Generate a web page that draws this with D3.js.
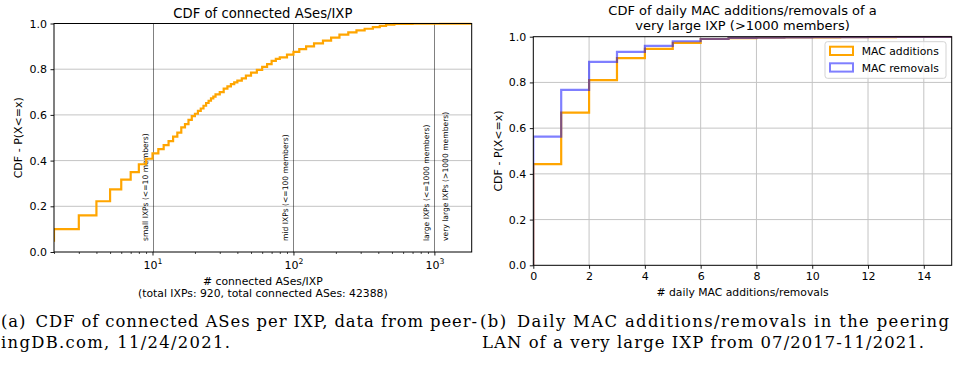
<!DOCTYPE html>
<html>
<head>
<meta charset="utf-8">
<script src="https://cdn.jsdelivr.net/npm/d3@7"></script>
<style>
body { margin: 0; background: #fff; }
svg text { font-family: "DejaVu Sans", sans-serif; fill: #000; }
svg text.caption { font-family: "DejaVu Serif", serif; font-size: 16.4px; }
</style>
</head>
<body>
<svg id="fig" width="954" height="365"></svg>
<script>
// (a) CDF of connected ASes per IXP
var asesCount = [1, 2, 3, 4, 5, 6, 7, 8, 9, 10, 11, 12, 13, 14, 15, 16, 17, 18, 19, 20,
	21, 22, 23, 24, 25, 26, 27, 28, 30, 32, 34, 36, 38, 40, 43, 46, 50, 55, 60, 65,
	70, 75, 80, 90, 100, 110, 123, 140, 162, 185, 212, 245, 280, 320, 366, 410, 454,
	520, 700, 1100, 1840];
var asesCdf = [0.05, 0.10, 0.16, 0.222, 0.274, 0.317, 0.35, 0.384, 0.408, 0.432, 0.45,
	0.468, 0.485, 0.505, 0.522, 0.545, 0.56, 0.578, 0.595, 0.605, 0.618, 0.628, 0.64,
	0.652, 0.662, 0.672, 0.68, 0.69, 0.70, 0.715, 0.725, 0.735, 0.742, 0.75, 0.76,
	0.772, 0.785, 0.797, 0.81, 0.822, 0.836, 0.845, 0.852, 0.864, 0.876, 0.888, 0.90,
	0.913, 0.925, 0.938, 0.951, 0.961, 0.970, 0.977, 0.984, 0.99, 0.995, 0.998, 0.999,
	0.9995, 1.0];
var ixpBounds = [10, 100, 1000];
var ixpLabelsLeft = ['small IXPs (<=10 members)', 'mid IXPs (<=100 members)',
	'large IXPs (<=1000 members)'];
var ixpLabelRight = 'very large IXPs (>1000 members)';
var asesDecades = [10, 100, 1000];

// (b) daily MAC additions / removals of a very large IXP
var macCount = [0, 1, 2, 3, 4, 5, 6, 7, 8, 9, 10, 11, 12, 13, 14, 15];
var macAdditions = [0.443, 0.668, 0.81, 0.906, 0.947, 0.973, 0.99, 0.994, 0.996, 0.997,
	0.997, 0.998, 0.998, 0.999, 0.999, 1.0];
var macRemovals = [0.563, 0.767, 0.89, 0.934, 0.96, 0.98, 0.99, 0.995, 0.996, 0.997,
	0.998, 0.998, 0.999, 0.999, 0.999, 1.0];
var macTicks = [0, 2, 4, 6, 8, 10, 12, 14];
var macSeries = ['MAC additions', 'MAC removals'];

var cdfTicks = [0, 0.2, 0.4, 0.6, 0.8, 1.0];

var svg = d3.select('#fig'),
	orange = '#ffa500',
	blue = 'rgba(0, 0, 255, 0.5)',
	gridColor = '#c4c4c4',
	fmt = d3.format('.1f');

function styleAxis(g, size) {
	g.select('.domain').remove();
	g.selectAll('.tick line').attr('stroke', '#000').attr('stroke-width', 0.9);
	g.selectAll('.tick text').style('font-size', (size || 11) + 'px')
		.style('font-family', '"DejaVu Sans", sans-serif');
}

function frame(box) {
	svg.append('rect')
		.attr('x', box.left)
		.attr('y', box.top)
		.attr('width', box.right - box.left)
		.attr('height', box.bottom - box.top)
		.attr('fill', 'none')
		.attr('stroke', '#000')
		.attr('stroke-width', 1);
}

function clipFor(id, box) {
	svg.append('clipPath').attr('id', id)
		.append('rect')
		.attr('x', box.left)
		.attr('y', box.top - 1)
		.attr('width', box.right - box.left)
		.attr('height', box.bottom - box.top + 1);
	return 'url(#' + id + ')';
}

/* ---------- left panel ---------- */
var boxA = {left: 54, right: 471.7, top: 23.5, bottom: 252},
	xA = d3.scaleLog().domain([2, 1840]).range([boxA.left, boxA.right]),
	yA = d3.scaleLinear().domain([0, 1]).range([boxA.bottom, boxA.top]);

svg.append('g').selectAll('line')
	.data(cdfTicks.slice(1, -1))
	.enter().append('line')
	.attr('x1', boxA.left).attr('x2', boxA.right)
	.attr('y1', function(d) { return yA(d); })
	.attr('y2', function(d) { return yA(d); })
	.attr('stroke', gridColor).attr('stroke-width', 1);

var gyA = svg.append('g')
	.attr('transform', 'translate(' + boxA.left + ',0)')
	.call(d3.axisLeft(yA).tickValues(cdfTicks).tickSize(3.5).tickPadding(3.5).tickFormat(fmt));
styleAxis(gyA);

// minor log ticks
var minorA = xA.ticks().filter(function(d) {
	return asesDecades.indexOf(d) < 0;
});
var gxMinor = svg.append('g')
	.attr('transform', 'translate(0,' + boxA.bottom + ')')
	.call(d3.axisBottom(xA).tickValues(minorA).tickSize(2).tickFormat(''));
styleAxis(gxMinor);
gxMinor.selectAll('.tick line').attr('stroke-width', 0.7);

var gxA = svg.append('g')
	.attr('transform', 'translate(0,' + boxA.bottom + ')')
	.call(d3.axisBottom(xA).tickValues(asesDecades).tickSize(3.5).tickFormat(''));
styleAxis(gxA);
gxA.selectAll('.tick').append('text')
	.attr('y', 17)
	.attr('text-anchor', 'middle')
	.style('font-size', '11px')
	.each(function(d) {
		var t = d3.select(this);
		t.append('tspan').text('10');
		t.append('tspan').attr('dy', -5).style('font-size', '7.7px')
			.text(Math.round(Math.log10(d)));
	});

// category boundaries
svg.append('g').selectAll('line')
	.data(ixpBounds)
	.enter().append('line')
	.attr('x1', function(d) { return Math.round(xA(d)) + 0.5; })
	.attr('x2', function(d) { return Math.round(xA(d)) + 0.5; })
	.attr('y1', boxA.top).attr('y2', boxA.bottom)
	.attr('stroke', '#000').attr('stroke-width', 1)
	.attr('stroke-dasharray', '1,1');

svg.append('g').selectAll('text')
	.data(ixpBounds)
	.enter().append('text')
	.attr('transform', function(d) {
		return 'translate(' + (xA(d) - 5) + ',' + (boxA.bottom - 11) + ') rotate(-90)';
	})
	.style('font-size', '7.6px')
	.text(function(d, i) { return ixpLabelsLeft[i]; });

svg.append('text')
	.attr('transform', 'translate(' + (xA(ixpBounds[2]) + 13.5) + ',' + (boxA.bottom - 11) + ') rotate(-90)')
	.style('font-size', '7.6px')
	.text(ixpLabelRight);

var stepLine = function(x, y) {
	return d3.line()
		.x(function(d) { return x(d[0]); })
		.y(function(d) { return y(d[1]); })
		.curve(d3.curveStepAfter);
};

svg.append('path')
	.datum(d3.zip(asesCount, asesCdf))
	.attr('clip-path', clipFor('clipA', boxA))
	.attr('d', stepLine(xA, yA))
	.attr('fill', 'none')
	.attr('stroke', orange)
	.attr('stroke-width', 2.2);

frame(boxA);

svg.append('text')
	.attr('x', (boxA.left + boxA.right) / 2).attr('y', 17.5)
	.attr('text-anchor', 'middle')
	.style('font-size', '13.2px')
	.text('CDF of connected ASes/IXP');

svg.append('text')
	.attr('transform', 'translate(21.5,' + (boxA.top + boxA.bottom) / 2 + ') rotate(-90)')
	.attr('text-anchor', 'middle')
	.style('font-size', '11px')
	.text('CDF - P(X<=x)');

var xlabA = svg.append('text')
	.attr('text-anchor', 'middle')
	.style('font-size', '10.8px');
xlabA.append('tspan').attr('x', (boxA.left + boxA.right) / 2).attr('y', 285)
	.text('# connected ASes/IXP');
xlabA.append('tspan').attr('x', (boxA.left + boxA.right) / 2).attr('y', 297)
	.text('(total IXPs: 920, total connected ASes: 42388)');

/* ---------- right panel ---------- */
var boxB = {left: 533.3, right: 951.7, top: 36.7, bottom: 265.3},
	xB = d3.scaleLinear().domain([0, 15]).range([boxB.left, boxB.right]),
	yB = d3.scaleLinear().domain([0, 1]).range([boxB.bottom, boxB.top]);

var gridB = svg.append('g');
gridB.selectAll('line.h')
	.data(cdfTicks.slice(1, -1))
	.enter().append('line').attr('class', 'h')
	.attr('x1', boxB.left).attr('x2', boxB.right)
	.attr('y1', function(d) { return yB(d); })
	.attr('y2', function(d) { return yB(d); })
	.attr('stroke', gridColor).attr('stroke-width', 1);
gridB.selectAll('line.v')
	.data(macTicks.slice(1))
	.enter().append('line').attr('class', 'v')
	.attr('x1', function(d) { return xB(d); })
	.attr('x2', function(d) { return xB(d); })
	.attr('y1', boxB.top).attr('y2', boxB.bottom)
	.attr('stroke', gridColor).attr('stroke-width', 1);

var gyB = svg.append('g')
	.attr('transform', 'translate(' + boxB.left + ',0)')
	.call(d3.axisLeft(yB).tickValues(cdfTicks).tickSize(3.5).tickPadding(3.5).tickFormat(fmt));
styleAxis(gyB);

var gxB = svg.append('g')
	.attr('transform', 'translate(0,' + boxB.bottom + ')')
	.call(d3.axisBottom(xB).tickValues(macTicks).tickSize(3.5).tickPadding(3.5));
styleAxis(gxB);

var clipB = clipFor('clipB', boxB);
[[macAdditions, orange], [macRemovals, blue]].forEach(function(s) {
	// the cumulative step starts from 0 at the first bin
	var pts = [[macCount[0], 0]].concat(d3.zip(macCount, s[0]));
	svg.append('path')
		.datum(pts)
		.attr('clip-path', clipB)
		.attr('d', stepLine(xB, yB))
		.attr('fill', 'none')
		.attr('stroke', s[1])
		.attr('stroke-width', 2.2);
});

frame(boxB);

// legend
var legend = svg.append('g').attr('transform', 'translate(825,41.7)');
legend.append('rect')
	.attr('width', 121).attr('height', 36.6)
	.attr('rx', 2.5)
	.attr('fill', 'rgba(255,255,255,0.8)')
	.attr('stroke', '#d3d3d3').attr('stroke-width', 1);
var items = legend.selectAll('g.item')
	.data(macSeries)
	.enter().append('g').attr('class', 'item')
	.attr('transform', function(d, i) { return 'translate(0,' + (5 + i * 16.6) + ')'; });
items.append('rect')
	.attr('x', 5).attr('width', 23).attr('height', 8.3)
	.attr('fill', '#fff')
	.attr('stroke', function(d, i) { return i === 0 ? orange : blue; })
	.attr('stroke-width', 2);
items.append('text')
	.attr('x', 36.7).attr('y', 8.4)
	.style('font-size', '10.8px')
	.text(function(d) { return d; });

var titleB = svg.append('text')
	.attr('text-anchor', 'middle')
	.style('font-size', '13px');
titleB.append('tspan').attr('x', (boxB.left + boxB.right) / 2).attr('y', 15)
	.text('CDF of daily MAC additions/removals of a');
titleB.append('tspan').attr('x', (boxB.left + boxB.right) / 2).attr('y', 29.5)
	.text('very large IXP (>1000 members)');

svg.append('text')
	.attr('transform', 'translate(501.5,' + (boxB.top + boxB.bottom) / 2 + ') rotate(-90)')
	.attr('text-anchor', 'middle')
	.style('font-size', '11px')
	.text('CDF - P(X<=x)');

svg.append('text')
	.attr('x', (boxB.left + boxB.right) / 2).attr('y', 296)
	.attr('text-anchor', 'middle')
	.style('font-size', '10.8px')
	.text('# daily MAC additions/removals');

/* ---------- captions ---------- */
var captions = [
	{x: 1, y: 327.3, w: 476, t: '(a)\u2002CDF of connected ASes per IXP, data from peer-'},
	{x: 1, y: 348.3, w: 229, t: 'ingDB.com, 11/24/2021.'},
	{x: 480, y: 327.3, w: 469, t: '(b)\u2002Daily MAC additions/removals in the peering'},
	{x: 482, y: 348.3, w: 442, t: 'LAN of a very large IXP from 07/2017-11/2021.'}
];
svg.append('g').selectAll('text')
	.data(captions)
	.enter().append('text')
	.attr('class', 'caption')
	.attr('x', function(d) { return d.x; })
	.attr('y', function(d) { return d.y; })
	.attr('textLength', function(d) { return d.w; })
	.attr('lengthAdjust', 'spacing')
	.text(function(d) { return d.t; });
</script>
</body>
</html>
